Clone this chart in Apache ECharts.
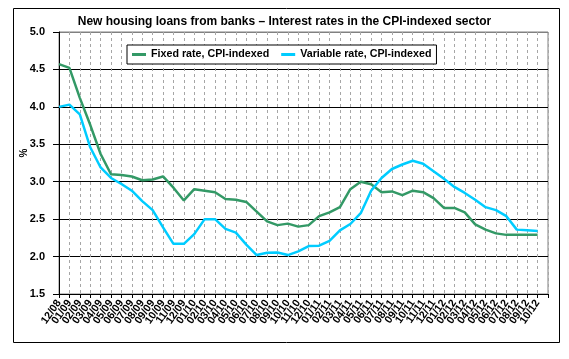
<!DOCTYPE html>
<html><head><meta charset="utf-8">
<script src="https://cdn.jsdelivr.net/npm/echarts@6/dist/echarts.min.js"></script>
<style>html,body{margin:0;padding:0;background:#fff}#c{width:569px;height:359px}</style>
</head><body><div id="c"></div>
<script>
const titleText = 'New housing loans from banks \u2013 Interest rates in the CPI-indexed sector';
const seriesNames = ['Fixed rate, CPI-indexed', 'Variable rate, CPI-indexed'];
const months = ['12/08',
  '01/09','02/09','03/09','04/09','05/09','06/09','07/09','08/09','09/09','10/09','11/09','12/09',
  '01/10','02/10','03/10','04/10','05/10','06/10','07/10','08/10','09/10','10/10','11/10','12/10',
  '01/11','02/11','03/11','04/11','05/11','06/11','07/11','08/11','09/11','10/11','11/11','12/11',
  '01/12','02/12','03/12','04/12','05/12','06/12','07/12','08/12','09/12','10/12'];
const fixedRate = [4.57, 4.52, 4.12, 3.76, 3.37, 3.10, 3.09, 3.07, 3.02, 3.03, 3.07, 2.92, 2.75,
  2.90, 2.88, 2.86, 2.77, 2.76, 2.73, 2.60, 2.47, 2.42, 2.44, 2.40, 2.42,
  2.54, 2.59, 2.66, 2.90, 3.00, 2.965, 2.86, 2.87, 2.82, 2.88, 2.86, 2.78,
  2.65, 2.65, 2.59, 2.43, 2.36, 2.31, 2.29, 2.29, 2.29, 2.29];
const variableRate = [4.00, 4.03, 3.90, 3.46, 3.19, 3.05, 2.97, 2.88, 2.74, 2.62, 2.39, 2.17, 2.17,
  2.30, 2.50, 2.50, 2.37, 2.32, 2.16, 2.02, 2.05, 2.055, 2.02, 2.07, 2.14,
  2.145, 2.21, 2.35, 2.435, 2.58, 2.88, 3.05, 3.17, 3.23, 3.28, 3.24, 3.14,
  3.04, 2.93, 2.85, 2.76, 2.66, 2.62, 2.54, 2.36, 2.35, 2.34];
const yMin = 1.5, yMax = 5.0, yStep = 0.5;
const yUnit = '%';

const FONT = '"Liberation Sans", Arial, sans-serif';
const chart = echarts.init(document.getElementById('c'), null, {renderer: 'canvas'});
chart.setOption({
  animation: false,
  backgroundColor: '#fff',
  color: ['#339966', '#00CCFF'],
  title: {
    text: titleText, left: 'center', top: 16, padding: 0,
    textStyle: {fontFamily: FONT, fontSize: 12, fontWeight: 'bold', color: '#000'}
  },
  legend: {
    data: seriesNames, left: 127, top: 45, padding: [4, 5], itemGap: 12,
    icon: 'rect', itemWidth: 14, itemHeight: 3,
    backgroundColor: '#fff', borderColor: '#000', borderWidth: 1, borderRadius: 0,
    textStyle: {fontFamily: FONT, fontSize: 10.7, fontWeight: 'bold', color: '#000'}
  },
  grid: {left: 59, right: 21, top: 32, bottom: 65, show: true, borderColor: '#808080', borderWidth: 1, backgroundColor: 'transparent'},
  xAxis: {
    type: 'category', data: months.concat(['']), boundaryGap: false,
    axisLine: {show: true, lineStyle: {color: '#000', width: 1}},
    axisTick: {show: true, length: 4, lineStyle: {color: '#000'}},
    axisLabel: {interval: 0, rotate: 55, margin: 7, fontFamily: FONT, fontSize: 10.7, fontWeight: 'bold', color: '#000'},
    splitLine: {show: true, lineStyle: {color: '#a6a6a6', type: [3, 3], width: 1}}
  },
  yAxis: {
    type: 'value', min: yMin, max: yMax, interval: yStep,
    axisLine: {show: true, lineStyle: {color: '#000', width: 1}},
    axisTick: {show: true, length: 6, lineStyle: {color: '#000'}},
    axisLabel: {margin: 14, fontFamily: FONT, fontSize: 11, fontWeight: 'bold', color: '#000', formatter: v => v.toFixed(1)},
    splitLine: {show: true, lineStyle: {color: ['#000', '#000', '#000', '#000', '#000', '#000', '#000', '#808080'], width: 1}}
  },
  graphic: [
    {type: 'rect', shape: {x: 13.5, y: 8.5, width: 546, height: 334}, style: {fill: 'none', stroke: '#000', lineWidth: 1}, silent: true},
    {type: 'text', x: 24.5, y: 153, rotation: Math.PI / 2, style: {text: yUnit, fontFamily: FONT, fontSize: 10, fontWeight: 'bold', fill: '#000', align: 'center', verticalAlign: 'middle'}}
  ],
  series: [
    {name: seriesNames[0], type: 'line', data: fixedRate, symbol: 'none', lineStyle: {width: 2.5, color: '#339966'}, z: 3},
    {name: seriesNames[1], type: 'line', data: variableRate, symbol: 'none', lineStyle: {width: 2.5, color: '#00CCFF'}, z: 3}
  ]
});
</script></body></html>
